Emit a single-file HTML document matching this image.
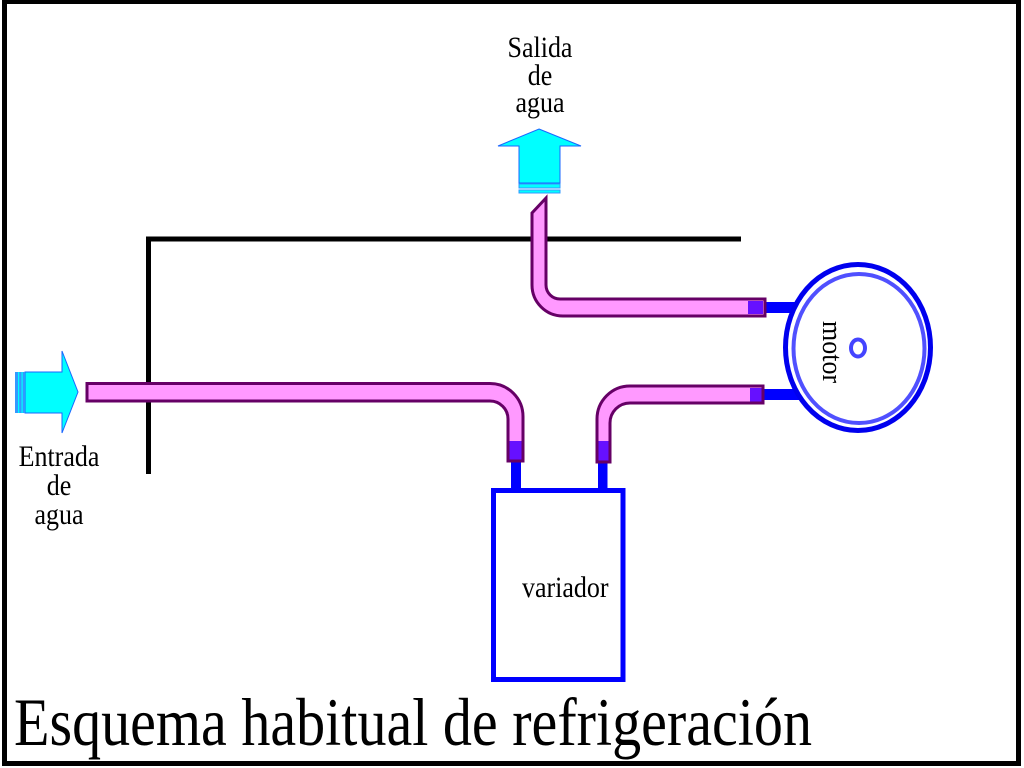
<!DOCTYPE html>
<html>
<head>
<meta charset="utf-8">
<style>
html,body{margin:0;padding:0;background:#fff;}
svg{display:block;}
text{font-family:"Liberation Serif","Times New Roman",serif;fill:#000;}
</style>
</head>
<body>
<svg width="1024" height="768" viewBox="0 0 1024 768" xmlns="http://www.w3.org/2000/svg">
  <rect x="0" y="0" width="1024" height="768" fill="#fff"/>
  <!-- frame -->
  <rect x="4.5" y="1.5" width="1014" height="762" fill="none" stroke="#000" stroke-width="5"/>

  <!-- black L line -->
  <path d="M148.5,474 V239 H741" fill="none" stroke="#000" stroke-width="5"/>

  <!-- outlet label -->
  <g transform="translate(540,57) scale(1,1.15)"><text x="0" y="0" font-size="26" text-anchor="middle">Salida</text></g>
  <g transform="translate(540,85) scale(1,1.15)"><text x="0" y="0" font-size="26" text-anchor="middle">de</text></g>
  <g transform="translate(540,112) scale(1,1.15)"><text x="0" y="0" font-size="26" text-anchor="middle">agua</text></g>

  <!-- outlet arrow -->
  <polygon points="539,129 581,146 560,146 560,183 519,183 519,146 498,146" fill="#00ffff" stroke="#1a66ff" stroke-width="1"/>
  <rect x="519" y="184" width="41" height="4" fill="#00ffff" stroke="#3399ff" stroke-width="1"/>
  <rect x="519" y="190" width="41" height="3" fill="#00ffff" stroke="#3399ff" stroke-width="1"/>

  <!-- inlet arrow -->
  <polygon points="25,372 62,372 62,351 78,392 62,433 62,413 25,413" fill="#00ffff" stroke="#1a66ff" stroke-width="1"/>
  <rect x="15" y="372" width="10" height="41" fill="#3399ff"/>
  <rect x="18" y="372" width="1.2" height="41" fill="#00ffff"/>
  <rect x="21.5" y="372" width="1.2" height="41" fill="#00ffff"/>

  <!-- inlet label -->
  <g transform="translate(59,466) scale(1,1.15)"><text x="0" y="0" font-size="26" text-anchor="middle">Entrada</text></g>
  <g transform="translate(59,495) scale(1,1.15)"><text x="0" y="0" font-size="26" text-anchor="middle">de</text></g>
  <g transform="translate(59,524) scale(1,1.15)"><text x="0" y="0" font-size="26" text-anchor="middle">agua</text></g>

  <!-- blue connectors -->
  <rect x="511" y="458" width="10" height="34" fill="#0000ff"/>
  <rect x="598" y="458" width="9.5" height="34" fill="#0000ff"/>
  <rect x="760" y="302" width="42" height="11" fill="#0000ff"/>
  <rect x="758" y="389" width="44" height="11" fill="#0000ff"/>

  <!-- outlet pipe -->
  <path d="M546,198 V285 A14,14 0 0 0 560,299 H765 V316 H563 A31,31 0 0 1 532,285 V213 Z" fill="#ff99ff" stroke="#660066" stroke-width="3" stroke-linejoin="miter"/>
  <rect x="748" y="301" width="15" height="13" fill="#6610ff"/>

  <!-- inlet pipe -->
  <path d="M87,383.5 H490 A33,33 0 0 1 523,416.5 V461 H508 V419 A18,18 0 0 0 490,401 H87 Z" fill="#ff99ff" stroke="#660066" stroke-width="3"/>
  <rect x="509.5" y="441" width="12" height="18.5" fill="#6610ff"/>

  <!-- right pipe -->
  <path d="M597,462 V419 A33,33 0 0 1 630,386 H763 V403 H630 A20,20 0 0 0 610,423 V462 Z" fill="#ff99ff" stroke="#660066" stroke-width="3"/>
  <rect x="598.5" y="441" width="10" height="19.5" fill="#6610ff"/>
  <rect x="750" y="388" width="11.5" height="13.5" fill="#6610ff"/>

  <!-- motor -->
  <ellipse cx="858" cy="347.5" rx="72.5" ry="83" fill="#fff" stroke="#0000ee" stroke-width="5"/>
  <ellipse cx="859" cy="348.5" rx="65.5" ry="74.5" fill="#fff" stroke="#5050ff" stroke-width="4"/>
  <ellipse cx="858" cy="348" rx="7" ry="8.5" fill="none" stroke="#4444ff" stroke-width="4"/>
  <text x="0" y="0" font-size="26" transform="translate(823,321) rotate(90) scale(1,1.1)">motor</text>

  <!-- variador -->
  <rect x="493.5" y="490.5" width="129.5" height="189" fill="#fff" stroke="#0000ff" stroke-width="5"/>
  <g transform="translate(522,597) scale(1,1.15)"><text x="0" y="0" font-size="26">variador</text></g>

  <!-- title -->
  <g transform="translate(14,745) scale(1,1.17)"><text x="0" y="0" font-size="58" textLength="798" lengthAdjust="spacingAndGlyphs">Esquema habitual de refrigeración</text></g>
</svg>
</body>
</html>
